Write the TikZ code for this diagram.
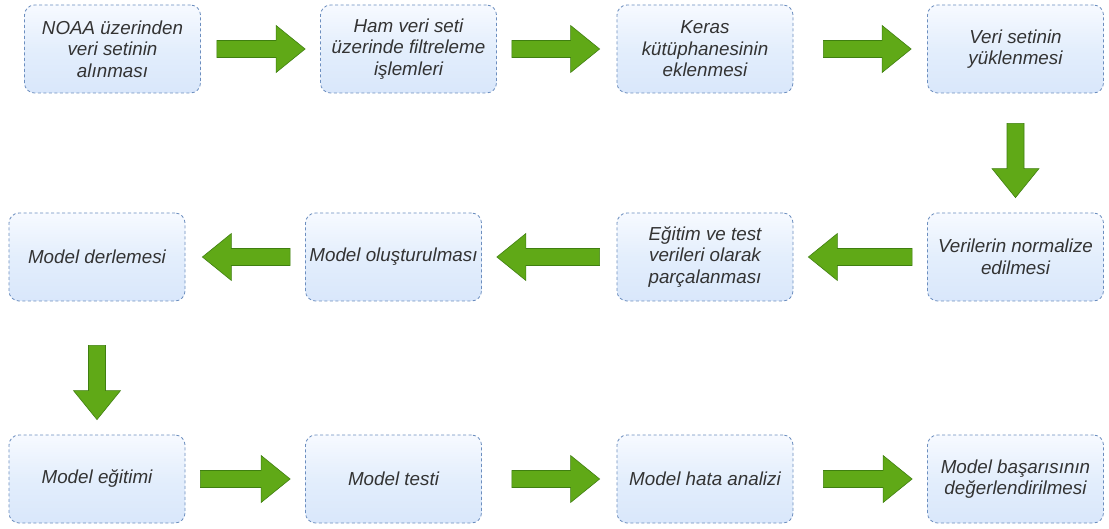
\documentclass[tikz,border=0pt]{standalone}
\usepackage{fontspec}
\setmainfont{Liberation Sans}
\usetikzlibrary{calc}
\definecolor{boxline}{HTML}{6C8EBF}
\definecolor{boxtop}{HTML}{F7FAFF}
\definecolor{boxmid}{HTML}{E3EEFC}
\definecolor{boxbot}{HTML}{D9E7FB}
\definecolor{arrowgreen}{HTML}{60A917}
\definecolor{arrowdark}{HTML}{3F7F10}
\definecolor{boxtext}{HTML}{333333}
\tikzset{
  stepbox/.style={draw=boxline, line width=0.8pt, dash pattern=on 3pt off 2.5pt,
    rounded corners=10pt, top color=boxtop, bottom color=boxbot, middle color=boxmid,
    minimum width=176pt, minimum height=88pt, inner sep=0pt, align=center,
    text=boxtext, font=\fontsize{18.8}{21.5}\selectfont\itshape},
  barrow/.style 2 args={draw=arrowdark, fill=arrowgreen, line width=0.6pt,
    to path={
      let \p1=($(\tikztostart)!#1!(\tikztotarget)$),
          \p2=($(\tikztotarget)!#2!(\tikztostart)$),
          \p3=($(\p2)!29pt!(\p1)$)
      in
      ($(\p1)!8.5pt!90:(\p2)$) -- ($(\p3)!8.5pt!-90:(\p1)$) -- ($(\p3)!23.5pt!-90:(\p1)$)
      -- (\p2) -- ($(\p3)!23.5pt!90:(\p1)$) -- ($(\p3)!8.5pt!90:(\p1)$)
      -- ($(\p1)!8.5pt!-90:(\p2)$) -- cycle
    }}
}
\begin{document}
\begin{tikzpicture}[x=1pt,y=-1pt]
\useasboundingbox[fill=white] (0,0) rectangle (1109,529);
% row 1
\node[stepbox] (r1a) at (112.5,49) {NOAA üzerinden\\veri setinin\\alınması};
\node[stepbox] (r1b) at (408.5,49) {Ham veri seti\\üzerinde filtreleme\\işlemleri};
\node[stepbox] (r1c) at (705,49) {Keras\\kütüphanesinin\\eklenmesi};
\node[stepbox] (r1d) at (1015.5,49) {Veri setinin\\yüklenmesi};
% row 2
\node[stepbox] (r2a) at (97,257) {Model derlemesi};
\node[stepbox] (r2b) at (393.5,257) {Model oluşturulması};
\node[stepbox] (r2c) at (705,257) {Eğitim ve test\\verileri olarak\\parçalanması};
\node[stepbox] (r2d) at (1015.5,257) {Verilerin normalize\\edilmesi};
% row 3
\node[stepbox] (r3a) at (97,479) {Model eğitimi};
\node[stepbox] (r3b) at (393.5,479) {Model testi};
\node[stepbox] (r3c) at (705,479) {Model hata analizi};
\node[stepbox] (r3d) at (1015.5,479) {Model başarısının\\değerlendirilmesi};
% arrows row 1
\draw[barrow={16pt}{15pt}] (r1a.east) to (r1b.west);
\draw[barrow={15pt}{17pt}] (r1b.east) to (r1c.west);
\draw[barrow={30pt}{16pt}] (r1c.east) to (r1d.west);
\draw[barrow={30pt}{15pt}] (r1d.south) to (r2d.north);
% arrows row 2
\draw[barrow={15pt}{15pt}] (r2d.west) to (r2c.east);
\draw[barrow={17pt}{15pt}] (r2c.west) to (r2b.east);
\draw[barrow={15pt}{17pt}] (r2b.west) to (r2a.east);
\draw[barrow={44pt}{15pt}] (r2a.south) to (r3a.north);
% arrows row 3
\draw[barrow={15pt}{15pt}] (r3a.east) to (r3b.west);
\draw[barrow={30pt}{17pt}] (r3b.east) to (r3c.west);
\draw[barrow={30pt}{15pt}] (r3c.east) to (r3d.west);
\end{tikzpicture}
\end{document}
